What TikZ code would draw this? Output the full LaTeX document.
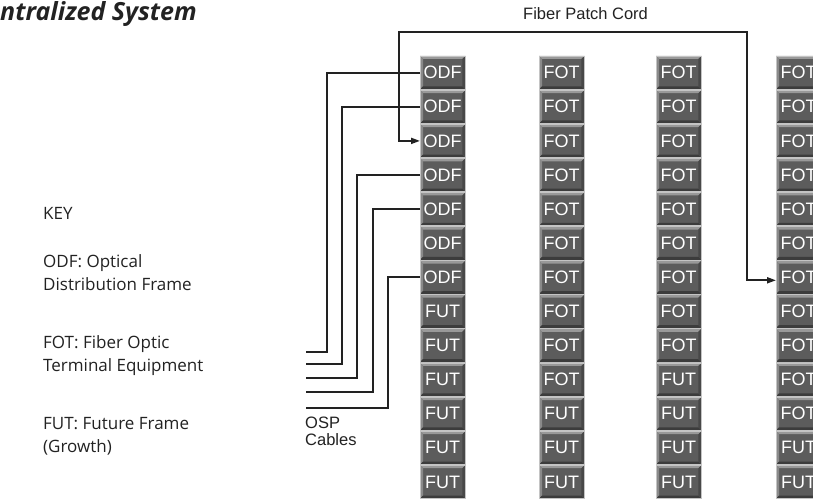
\documentclass[tikz,border=0pt]{standalone}
\usepackage{fontspec}
\setmainfont{Open Sans}
\newfontfamily\arialf{Liberation Sans}
\usetikzlibrary{arrows.meta,calc}
\definecolor{boxface}{HTML}{5C5C5C}
\definecolor{boxedge}{HTML}{C4C4C4}
\definecolor{bevtop}{HTML}{999999}
\definecolor{bevleft}{HTML}{8A8A8A}
\definecolor{bevbot}{HTML}{3C3C3C}
\definecolor{bevright}{HTML}{484848}
\definecolor{ink}{HTML}{222222}
\tikzset{
  fbox/.style={rectangle, minimum width=45pt, minimum height=33pt, inner sep=0pt,
    anchor=north west, fill=boxface, text=white,
    font=\arialf\fontsize{18}{18}\selectfont},
  cable/.style={draw=ink, line width=1.8pt},
  keytext/.style={anchor=base west, inner sep=0pt, text=ink,
    font=\fontsize{17}{24}\selectfont},
  smalltext/.style={inner sep=0pt, text=ink, font=\arialf\fontsize{16.5}{17}\selectfont},
}
\newcommand{\bevelbox}[1]{%
  \fill[bevtop] (#1.north west) -- (#1.north east) -- ($(#1.north east)+(-3pt,-3pt)$) -- ($(#1.north west)+(3pt,-3pt)$) -- cycle;
  \fill[bevleft] (#1.north west) -- ($(#1.north west)+(3pt,-3pt)$) -- ($(#1.south west)+(3pt,3pt)$) -- (#1.south west) -- cycle;
  \fill[bevbot] (#1.south west) -- ($(#1.south west)+(3pt,3pt)$) -- ($(#1.south east)+(-3pt,3pt)$) -- (#1.south east) -- cycle;
  \fill[bevright] (#1.south east) -- ($(#1.south east)+(-3pt,3pt)$) -- ($(#1.north east)+(-3pt,-3pt)$) -- (#1.north east) -- cycle;
  \draw[boxedge, line width=0.8pt] (#1.north west) rectangle (#1.south east);
}
\begin{document}
\begin{tikzpicture}[x=1pt,y=-1pt]
\useasboundingbox (0,0) rectangle (813,500);
\clip (0,0) rectangle (813,500);
\fill[white] (0,0) rectangle (813,500);

% title
\node[anchor=base west, inner sep=0pt, text=ink, font=\bfseries\itshape\fontsize{25}{28}\selectfont] (title) at (0,21) {ntralized System};

% key
\node[keytext] (key) at (43,219) {KEY};
\node[keytext] (k1a) at (43,267) {ODF: Optical};
\node[keytext] (k1b) at (43,290) {Distribution Frame};
\node[keytext] (k2a) at (43,348) {FOT: Fiber Optic};
\node[keytext] (k2b) at (43,371) {Terminal Equipment};
\node[keytext] (k3a) at (43,429) {FUT: Future Frame};
\node[keytext] (k3b) at (43,452) {(Growth)};

% frames
\foreach \c/\x/\nf in {1/420/7,2/539/10,3/656/9,4/776/11}{
  \foreach \r in {1,...,13}{
    \pgfmathsetmacro\yy{56+34.1*(\r-1)}
    \ifnum\r>\nf \def\lab{FUT}\else \ifnum\c=1 \def\lab{ODF}\else\def\lab{FOT}\fi\fi
    \node[fbox] (c\c r\r) at (\x,\yy) {\lab};
    \bevelbox{c\c r\r}
  }
}

% OSP cables
\coordinate (k1) at (327,352); \coordinate (e1) at (306,352);
\coordinate (k2) at (342,364); \coordinate (e2) at (306,364);
\coordinate (k3) at (357,378); \coordinate (e3) at (306,378);
\coordinate (k4) at (373,392); \coordinate (e4) at (306,392);
\coordinate (k5) at (388,408); \coordinate (e5) at (306,408);
\draw[cable] (c1r1.west) -| (k1) -- (e1);
\draw[cable] (c1r2.west) -| (k2) -- (e2);
\draw[cable] (c1r4.west) -| (k3) -- (e3);
\draw[cable] (c1r5.west) -| (k4) -- (e4);
\draw[cable] (c1r7.west) -| (k5) -- (e5);

\node[smalltext, anchor=north west, align=left] (osp) at (305,417) {OSP\\Cables};

% fiber patch cord
\coordinate (p1) at (399,32);
\coordinate (p2) at (747,32);
\draw[cable, {Triangle[length=9pt,width=6pt]}-{Triangle[length=9pt,width=6pt]}] (c1r3.west) -| (p1) -- (p2) |- ($(c4r7.west)+(0,-3pt)$);
\node[smalltext, anchor=base west] (fpc) at (523,20) {Fiber Patch Cord};
\end{tikzpicture}
\end{document}
